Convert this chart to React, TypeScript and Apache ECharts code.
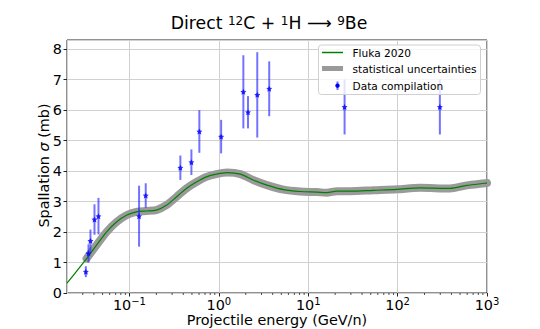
import React, { useEffect, useRef } from "react";
import * as echarts from "echarts";

// Fluka 2020 model curve (energy in GeV/n, cross section in mb)
const flukaE = [0.02, 0.0331, 0.0428, 0.0553, 0.0716, 0.0925, 0.1197, 0.155, 0.2, 0.259, 0.335, 0.433, 0.561, 0.725, 0.938, 1.24, 1.74, 2.45, 3.45, 5.3, 8.1, 12.5, 16.1, 21, 29.5, 54, 98, 178, 385, 594, 950, 1000];
const flukaSigma = [0.32, 1.13, 1.57, 2.0, 2.33, 2.55, 2.66, 2.69, 2.72, 2.88, 3.15, 3.43, 3.64, 3.81, 3.9, 3.95, 3.9, 3.7, 3.54, 3.39, 3.33, 3.31, 3.29, 3.34, 3.34, 3.37, 3.4, 3.45, 3.43, 3.53, 3.6, 3.61];
// statistical uncertainty band starts at this index
const bandStart = 1;

// Data compilation
const dataE = [0.0325, 0.0348, 0.0366, 0.0406, 0.045, 0.128, 0.152, 0.371, 0.493, 0.605, 1.06, 1.88, 2.12, 2.69, 3.66, 25.5, 297];
const dataSigma = [0.7, 1.3, 1.71, 2.41, 2.52, 2.52, 3.2, 4.11, 4.29, 5.3, 5.13, 6.6, 5.93, 6.5, 6.7, 6.1, 6.1];
const dataErr = [0.18, 0.3, 0.37, 0.5, 0.6, 1.0, 0.4, 0.4, 0.42, 0.7, 0.55, 1.2, 0.53, 1.4, 0.9, 0.9, 0.9];

const yTicks = [0, 1, 2, 3, 4, 5, 6, 7, 8];
const legendLabels = ["Fluka 2020", "statistical uncertainties", "Data compilation"];

const FONT = "DejaVu Sans";
const STAR = "path://M0,-1L0.29,-0.4L0.95,-0.31L0.47,0.15L0.59,0.81L0,0.5L-0.59,0.81L-0.47,0.15L-0.95,-0.31L-0.29,-0.4Z";

function minorTicks(): number[] {
  const out: number[] = [];
  for (let k = -2; k <= 2; k++) {
    for (let m = 2; m <= 9; m++) {
      const v = m * Math.pow(10, k);
      if (v > 0.02 && v < 1000) out.push(v);
    }
  }
  return out;
}

export default function App() {
  const ref = useRef<HTMLDivElement>(null);
  useEffect(() => {
    if (!ref.current) return;
    const chart = echarts.init(ref.current, undefined, { renderer: "svg" });
    const fluka = flukaE.map((e, i) => [e, flukaSigma[i]]);
    const band = fluka.slice(bandStart);
    const pts = dataE.map((e, i) => [e, dataSigma[i], dataErr[i]]);
    const minor = minorTicks().map((v) => [v, 0]);
    const errColor = "rgba(40,40,255,0.65)";

    chart.setOption({
      animation: false,
      grid: { left: 67, right: 53, top: 40, bottom: 36, show: true, borderColor: "#222", borderWidth: 1, backgroundColor: "transparent" },
      xAxis: {
        type: "log",
        logBase: 10,
        min: 0.02,
        max: 1000,
        axisLine: { show: false },
        axisTick: { show: true, length: 3.5, lineStyle: { color: "#222", width: 1 } },
        splitLine: { show: true, lineStyle: { color: "#d0d0d0", width: 1 } },
        axisLabel: {
          showMinLabel: false,
          margin: 3,
          color: "#000",
          fontFamily: FONT,
          formatter: (v: number) => {
            const e = Math.round(Math.log10(v));
            return "{b|10}{sup|" + (e < 0 ? "\u2212" + -e : String(e)) + "}";
          },
          rich: {
            b: { fontSize: 14.4, fontFamily: FONT, color: "#000", lineHeight: 16, verticalAlign: "bottom" },
            sup: { fontSize: 10, fontFamily: FONT, color: "#000", lineHeight: 10, verticalAlign: "top", padding: [0, 0, 8, 0] },
          },
        },
      },
      yAxis: {
        type: "value",
        min: 0,
        max: 8.3,
        interval: 1,
        axisLine: { show: false },
        axisTick: { show: true, length: 3.5, lineStyle: { color: "#222", width: 1 } },
        splitLine: { show: true, lineStyle: { color: "#d0d0d0", width: 1 } },
        axisLabel: {
          showMaxLabel: false,
          margin: 5,
          color: "#000",
          fontSize: 14.4,
          fontFamily: FONT,
          formatter: (v: number) => (yTicks.includes(v) ? String(v) : ""),
        },
      },
      series: [
        {
          type: "line",
          name: legendLabels[1],
          data: band,
          smooth: 0.3,
          symbol: "none",
          lineStyle: { color: "#9a9a9a", width: 8, cap: "round", join: "round" },
          z: 1,
          silent: true,
        },
        {
          type: "line",
          name: legendLabels[0],
          data: fluka,
          smooth: 0.3,
          symbol: "none",
          lineStyle: { color: "#008000", width: 1.2 },
          z: 2,
          silent: true,
        },
        {
          type: "custom",
          name: legendLabels[2] + " errors",
          data: pts,
          encode: { x: 0, y: 1 },
          z: 3,
          silent: true,
          renderItem: (params: any, api: any) => {
            const x = api.value(0);
            const y = api.value(1);
            const er = api.value(2);
            const p1 = api.coord([x, y - er]);
            const p2 = api.coord([x, y + er]);
            return {
              type: "line",
              shape: { x1: p1[0], y1: p1[1], x2: p2[0], y2: p2[1] },
              style: { stroke: errColor, lineWidth: 2 },
            };
          },
        },
        {
          type: "scatter",
          name: legendLabels[2],
          data: pts.map((p) => [p[0], p[1]]),
          symbol: STAR,
          symbolSize: 6,
          itemStyle: { color: "#0000ff" },
          z: 4,
          silent: true,
        },
        {
          type: "custom",
          name: "minor ticks",
          data: minor,
          encode: { x: 0, y: 1 },
          silent: true,
          clip: false,
          renderItem: (params: any, api: any) => {
            const p = api.coord([api.value(0), 0]);
            return {
              type: "line",
              shape: { x1: p[0], y1: p[1], x2: p[0], y2: p[1] + 2 },
              style: { stroke: "#222", lineWidth: 0.8 },
            };
          },
        },
      ],
      graphic: [
        {
          type: "text",
          x: 269,
          y: 23,
          style: {
            text: "Direct {s|12}C + {s|1}H {a|\u27F6} {s|9}Be",
            fontSize: 17.3,
            fontFamily: FONT,
            fill: "#000",
            align: "center",
            verticalAlign: "middle",
            rich: {
              s: { fontSize: 12, fontFamily: FONT, lineHeight: 12, verticalAlign: "top", padding: [0, 0, 8, 0] },
              a: { fontSize: 17.3, fontFamily: FONT },
            },
          },
        },
        {
          type: "text",
          x: 277,
          y: 320,
          style: { text: "Projectile energy (GeV/n)", fontSize: 14.4, fontFamily: FONT, fill: "#000", align: "center", verticalAlign: "middle" },
        },
        {
          type: "text",
          x: 43.5,
          y: 165.5,
          rotation: Math.PI / 2,
          style: {
            text: "Spallation {i|\u03C3} (mb)",
            fontSize: 14.4,
            fontFamily: FONT,
            fill: "#000",
            align: "center",
            verticalAlign: "middle",
            rich: { i: { fontSize: 14.4, fontFamily: FONT, fontStyle: "italic" } },
          },
        },
        // legend
        {
          type: "rect",
          shape: { x: 318.5, y: 45, width: 162, height: 49.5, r: 3 },
          style: { fill: "rgba(255,255,255,0.8)", stroke: "#d0d0d0", lineWidth: 1 },
          z: 10,
        },
        {
          type: "line",
          shape: { x1: 322, y1: 52.5, x2: 343, y2: 52.5 },
          style: { stroke: "#008000", lineWidth: 1.5 },
          z: 11,
        },
        {
          type: "rect",
          shape: { x: 322, y: 66, width: 21, height: 5 },
          style: { fill: "#9a9a9a" },
          z: 11,
        },
        {
          type: "line",
          shape: { x1: 337.5, y1: 81.5, x2: 337.5, y2: 90 },
          style: { stroke: errColor, lineWidth: 2 },
          z: 11,
        },
        {
          type: "circle",
          shape: { cx: 337.5, cy: 85.7, r: 2.2 },
          style: { fill: "#0000ff" },
          z: 12,
        },
        ...legendLabels.map((t, i) => ({
          type: "text",
          x: 352.5,
          y: [52.5, 68.5, 85.5][i],
          z: 12,
          style: { text: t, fontSize: 10.6, fontFamily: FONT, fill: "#000", align: "left", verticalAlign: "middle" },
        })),
      ],
    });
    return () => chart.dispose();
  }, []);
  return <div ref={ref} style={{ width: 540, height: 329, position: "absolute", left: 0, top: 0 }} />;
}
